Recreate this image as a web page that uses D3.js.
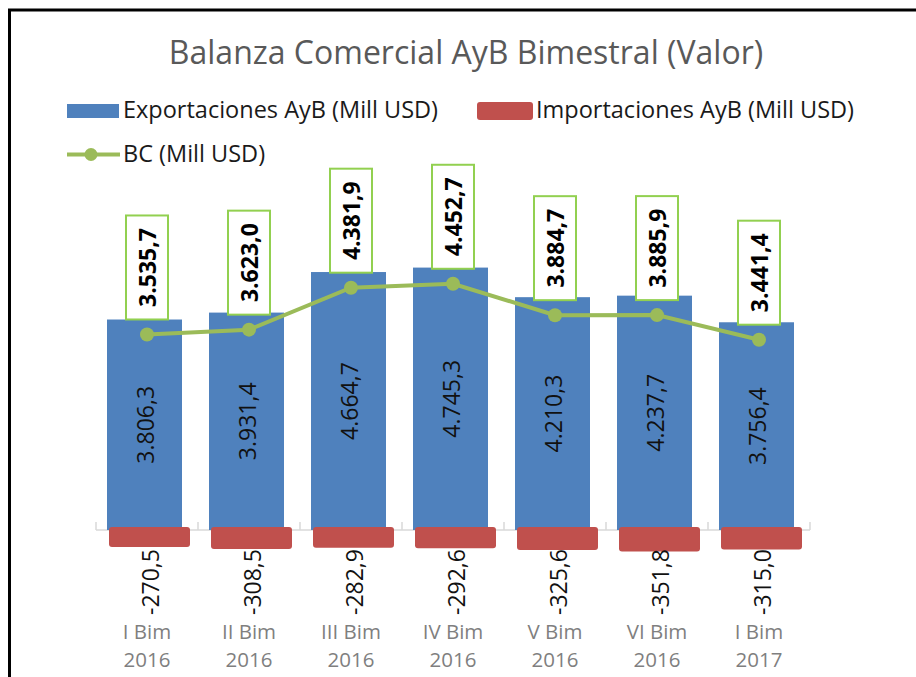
<!DOCTYPE html>
<html>
<head>
<meta charset="utf-8">
<script src="https://cdn.jsdelivr.net/npm/d3@7"></script>
<style>
  body { margin: 0; background: #fff; }
  text { font-family: "Open Sans", sans-serif; }
</style>
</head>
<body>
<div id="chart"></div>
<script>
// data
var categories = ["I Bim|2016", "II Bim|2016", "III Bim|2016", "IV Bim|2016", "V Bim|2016", "VI Bim|2016", "I Bim|2017"];
var exportaciones = [3806.3, 3931.4, 4664.7, 4745.3, 4210.3, 4237.7, 3756.4];
var importaciones = [-270.5, -308.5, -282.9, -292.6, -325.6, -351.8, -315.0];
var balanza = [3535.7, 3623.0, 4381.9, 4452.7, 3884.7, 3885.9, 3441.4];
var seriesNames = ["Exportaciones AyB (Mill USD)", "Importaciones AyB (Mill USD)", "BC (Mill USD)"];

var width = 916, height = 677;
var blue = "#4f81bd", red = "#c0504d", green = "#9bbb59", boxGreen = "#92d050";

// numbers like 3.806,3
function fmt(v) {
    var s = Math.abs(v).toFixed(1).split(".");
    var ent = s[0].replace(/\B(?=(\d{3})+(?!\d))/g, ".");
    return (v < 0 ? "-" : "") + ent + "," + s[1];
}

var svg = d3.select("#chart").append("svg")
    .attr("width", width)
    .attr("height", height);

// outer frame
svg.append("rect")
    .attr("x", 9.5).attr("y", 10)
    .attr("width", 1000).attr("height", 1000)
    .attr("fill", "none")
    .attr("stroke", "#000")
    .attr("stroke-width", 3);

svg.append("text")
    .attr("x", 466).attr("y", 64)
    .attr("text-anchor", "middle")
    .attr("font-size", 32)
    .attr("fill", "#595959")
    .text("Balanza Comercial AyB Bimestral (Valor)");

////////// legend //////////
var legend = svg.append("g").attr("font-size", 23.5).attr("fill", "#1a1a1a");
legend.append("rect").attr("x", 67).attr("y", 104).attr("width", 52).attr("height", 14).attr("fill", blue);
legend.append("text").attr("x", 123).attr("y", 118).text(seriesNames[0]);
legend.append("rect").attr("x", 477).attr("y", 102).attr("width", 56).attr("height", 18).attr("rx", 3).attr("fill", red);
legend.append("text").attr("x", 536).attr("y", 118).text(seriesNames[1]);
legend.append("line").attr("x1", 67).attr("x2", 120).attr("y1", 154.5).attr("y2", 154.5)
    .attr("stroke", green).attr("stroke-width", 4);
legend.append("circle").attr("cx", 91).attr("cy", 154.5).attr("r", 6.5).attr("fill", green);
legend.append("text").attr("x", 123).attr("y", 162).text(seriesNames[2]);

////////// scales //////////
var x = d3.scaleBand()
    .domain(categories)
    .range([96, 810]);
var bw = x.bandwidth();

var y = d3.scaleLinear()
    .domain([0, 5000])
    .range([530, 253.5]);

// category axis at zero
var axis = svg.append("g");
axis.append("line")
    .attr("x1", 96).attr("x2", 810)
    .attr("y1", y(0)).attr("y2", y(0))
    .attr("stroke", "#d9d9d9").attr("stroke-width", 1.5);
axis.selectAll("line.tick")
    .data(d3.range(categories.length + 1))
    .enter().append("line")
    .attr("class", "tick")
    .attr("x1", function (i) { return 96 + i * bw; })
    .attr("x2", function (i) { return 96 + i * bw; })
    .attr("y1", y(0) - 8).attr("y2", y(0))
    .attr("stroke", "#d9d9d9").attr("stroke-width", 1.5);

// export bars
svg.selectAll("rect.exp")
    .data(exportaciones)
    .enter().append("rect")
    .attr("class", "exp")
    .attr("x", function (d, i) { return x(categories[i]) + 11; })
    .attr("width", 75)
    .attr("y", function (d) { return y(d); })
    .attr("height", function (d) { return y(0) - y(d); })
    .attr("fill", blue);

// import bars (negative)
svg.selectAll("rect.imp")
    .data(importaciones)
    .enter().append("rect")
    .attr("class", "imp")
    .attr("x", function (d, i) { return x(categories[i]) + 13; })
    .attr("width", 81)
    .attr("y", y(0) - 3)
    .attr("height", function (d) { return y(d) - y(0) + 5; })
    .attr("rx", 3)
    .attr("fill", red);

// export labels, rotated in bar middle
svg.selectAll("text.expLabel")
    .data(exportaciones)
    .enter().append("text")
    .attr("class", "expLabel")
    .attr("font-size", 23)
    .attr("fill", "#111")
    .attr("text-anchor", "middle")
    .attr("dominant-baseline", "central")
    .attr("transform", function (d, i) {
        var cx = x(categories[i]) + 48.5, cy = (y(d) + y(0)) / 2;
        return "translate(" + cx + "," + cy + ") rotate(-90)";
    })
    .text(fmt);

// import labels
svg.selectAll("text.impLabel")
    .data(importaciones)
    .enter().append("text")
    .attr("class", "impLabel")
    .attr("font-size", 23)
    .attr("fill", "#111")
    .attr("dominant-baseline", "central")
    .attr("transform", function (d, i) {
        return "translate(" + (x(categories[i]) + 53.5) + ",615) rotate(-90)";
    })
    .text(fmt);

// BC line
var line = d3.line()
    .x(function (d, i) { return x(categories[i]) + bw / 2; })
    .y(function (d) { return y(d); });

svg.append("path")
    .datum(balanza)
    .attr("d", line)
    .attr("fill", "none")
    .attr("stroke", green)
    .attr("stroke-width", 4);

svg.selectAll("circle.pt")
    .data(balanza)
    .enter().append("circle")
    .attr("class", "pt")
    .attr("cx", function (d, i) { return x(categories[i]) + bw / 2; })
    .attr("cy", function (d) { return y(d); })
    .attr("r", 7)
    .attr("fill", green);

// BC labels in boxes
var boxes = svg.selectAll("g.bcLabel")
    .data(balanza)
    .enter().append("g")
    .attr("class", "bcLabel")
    .attr("transform", function (d, i) {
        return "translate(" + (x(categories[i]) + bw / 2) + "," + (y(d) - 15) + ")";
    });
boxes.append("rect")
    .attr("x", -21).attr("y", -104)
    .attr("width", 42).attr("height", 104)
    .attr("fill", "#fff")
    .attr("stroke", boxGreen)
    .attr("stroke-width", 2);
boxes.append("text")
    .attr("font-size", 23)
    .attr("font-weight", "bold")
    .attr("fill", "#000")
    .attr("text-anchor", "middle")
    .attr("dominant-baseline", "central")
    .attr("transform", "translate(0,-52) rotate(-90)")
    .text(fmt);

// category labels
svg.selectAll("text.cat")
    .data(categories)
    .enter().append("text")
    .attr("class", "cat")
    .attr("font-size", 20.5)
    .attr("fill", "#7f7f7f")
    .attr("text-anchor", "middle")
    .each(function (c) {
        var parts = c.split("|");
        var t = d3.select(this);
        t.append("tspan").attr("x", x(c) + bw / 2).attr("y", 639).text(parts[0]);
        t.append("tspan").attr("x", x(c) + bw / 2).attr("y", 667).text(parts[1]);
    });
</script>
</body>
</html>
